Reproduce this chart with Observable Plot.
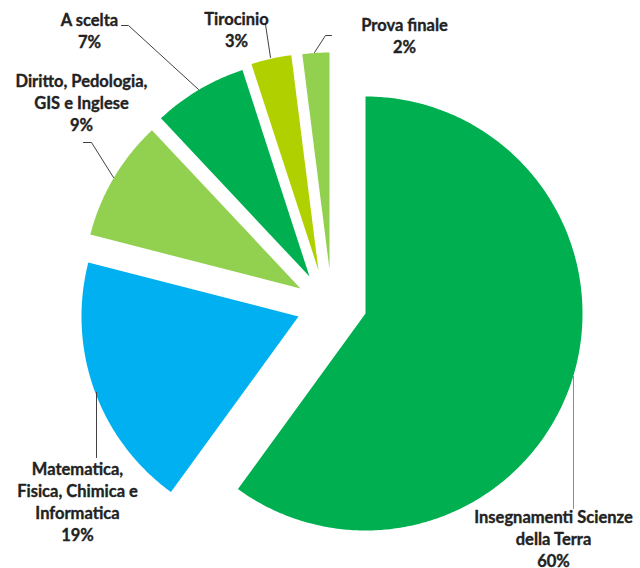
<!DOCTYPE html>
<html>
<head>
<meta charset="utf-8">
<script src="https://cdn.jsdelivr.net/npm/d3@7"></script>
<script src="https://cdn.jsdelivr.net/npm/@observablehq/plot@0.6"></script>
<style>
  html, body { margin: 0; padding: 0; background: #fff; }
  #chart svg { display: block; }
</style>
</head>
<body>
<div id="chart"></div>
<script>
// ---- data ----
const categories = [
  "Insegnamenti Scienze\ndella Terra",
  "Matematica,\nFisica, Chimica e\nInformatica",
  "Diritto, Pedologia,\nGIS e Inglese",
  "A scelta",
  "Tirocinio",
  "Prova finale"
];
const values = [60, 19, 9, 7, 3, 2];

// ---- styling / layout ----
const colors = ["#00B050", "#00B0F0", "#92D050", "#00B050", "#B0D000", "#92D050"];
const W = 640, H = 568;
const center = [365, 313];
const radius = 217;
// explosion offset of each slice (pixels)
const explode = [[0, 0], [-67, 3], [-65, -25], [-56, -37], [-47, -43], [-36, -44]];
// label block centres
const labelPos = [[553, 537], [77, 500], [81, 101], [89, 29], [236, 28.5], [404, 34]];
// leader lines
const leaders = [
  [[573, 376], [573, 508]],
  [[96, 392], [96, 457]],
  [[83, 142], [91, 142], [113, 177]],
  [[121, 25], [128, 25], [198, 89]],
  [[265, 24], [270, 57]],
  [[331, 35], [325, 35], [314, 52]]
];
const leaderColors = ["#8c8c8c", "#404040", "#404040", "#404040", "#404040", "#404040"];

// ---- geometry from data ----
const pie = d3.pie().sort(null).startAngle(0).endAngle(2 * Math.PI);
const arcs = pie(values);
const slices = arcs.map((a, i) => {
  const cx = center[0] + explode[i][0];
  const cy = center[1] + explode[i][1];
  const pts = [{x: cx, y: cy}];
  const n = Math.max(8, Math.ceil((a.endAngle - a.startAngle) / 0.01));
  for (let k = 0; k <= n; k++) {
    const t = a.startAngle + (a.endAngle - a.startAngle) * k / n;
    pts.push({x: cx + radius * Math.sin(t), y: cy - radius * Math.cos(t)});
  }
  pts.push({x: cx, y: cy});
  return pts;
});

const labels = categories.map((c, i) => ({
  text: c + "\n" + values[i] + "%",
  x: labelPos[i][0],
  y: labelPos[i][1]
}));

const marks = [];
slices.forEach((pts, i) => {
  marks.push(Plot.line(pts, {x: "x", y: "y", fill: colors[i], stroke: "none", curve: "linear"}));
});
leaders.forEach((pts, i) => {
  marks.push(Plot.line(pts.map(p => ({x: p[0], y: p[1]})), {x: "x", y: "y", stroke: leaderColors[i], strokeWidth: 1}));
});
marks.push(Plot.text(labels, {
  x: "x", y: "y", text: "text",
  fontSize: 16.5, fontWeight: "bold", lineHeight: 1.333,
  fill: "#222", stroke: "#222", strokeWidth: 0.35,
  textAnchor: "middle", lineAnchor: "middle",
  fontFamily: "Lato, sans-serif"
}));

const chart = Plot.plot({
  width: W, height: H,
  margin: 0,
  x: {domain: [0, W], range: [0, W], axis: null},
  y: {domain: [0, H], range: [0, H], axis: null},
  style: {background: "#fff", fontFamily: "Lato, sans-serif"},
  marks
});
document.getElementById("chart").appendChild(chart);
</script>
</body>
</html>
